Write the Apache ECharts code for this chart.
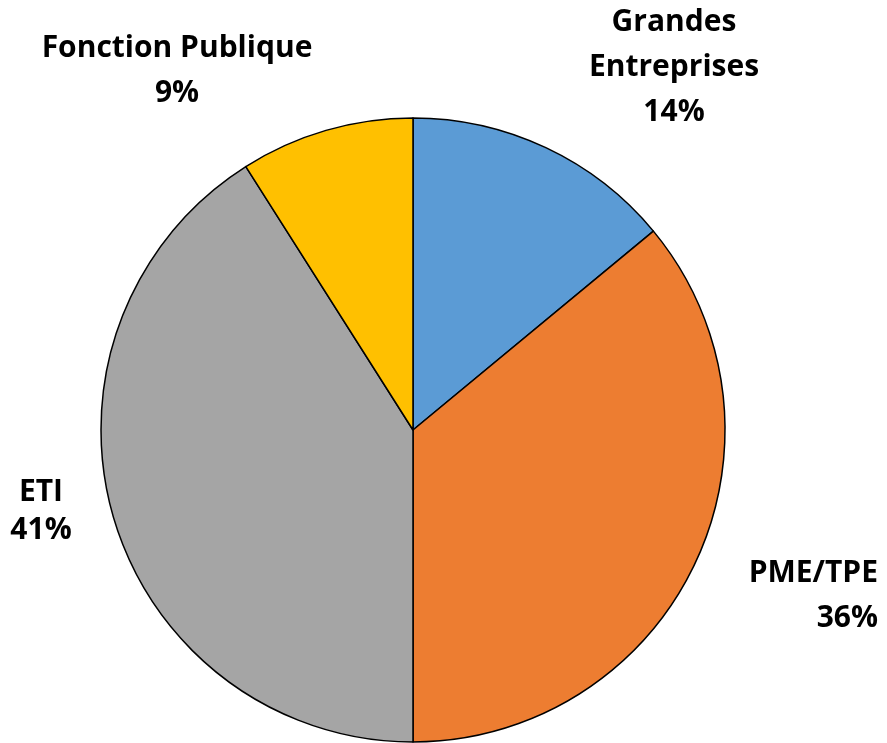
<!DOCTYPE html>
<html><head><meta charset="utf-8">
<script src="https://cdn.jsdelivr.net/npm/echarts@6/dist/echarts.min.js"></script>
<style>html,body{margin:0;padding:0;background:#fff}#c{width:887px;height:743px}</style>
</head><body><div id="c"></div>
<script>
const categories = ['Grandes\nEntreprises', 'PME/TPE', 'ETI', 'Fonction Publique'];
const values = [14, 36, 41, 9];
const colors = ['#5B9BD5', '#ED7D31', '#A5A5A5', '#FFC000'];

const labelSpots = [
  {x: 674, y: 67, align: 'center', lh: 45},
  {x: 878, y: 596, align: 'right', lh: 45},
  {x: 41, y: 511, align: 'center', lh: 38},
  {x: 177, y: 71, align: 'center', lh: 45}
];

const chart = echarts.init(document.getElementById('c'));
chart.setOption({
  animation: false,
  series: [{
    type: 'pie',
    center: [413, 430],
    radius: [0, 312],
    startAngle: 90,
    clockwise: true,
    data: categories.map((n, i) => ({
      name: n, value: values[i],
      itemStyle: {color: colors[i]},
      label: {align: labelSpots[i].align, lineHeight: labelSpots[i].lh}
    })),
    itemStyle: {borderColor: '#000', borderWidth: 1.5},
    label: {
      show: true,
      position: 'outside',
      overflow: 'none',
      formatter: p => p.name + '\n' + p.value + '%',
      fontFamily: 'Open Sans',
      fontWeight: 'bold',
      fontSize: 30,
      color: '#000'
    },
    labelLine: {show: false},
    labelLayout: p => {
      const s = labelSpots[p.dataIndex];
      return {x: s.x, y: s.y, align: s.align, verticalAlign: 'middle'};
    },
    emphasis: {disabled: true}
  }]
});
</script></body></html>
